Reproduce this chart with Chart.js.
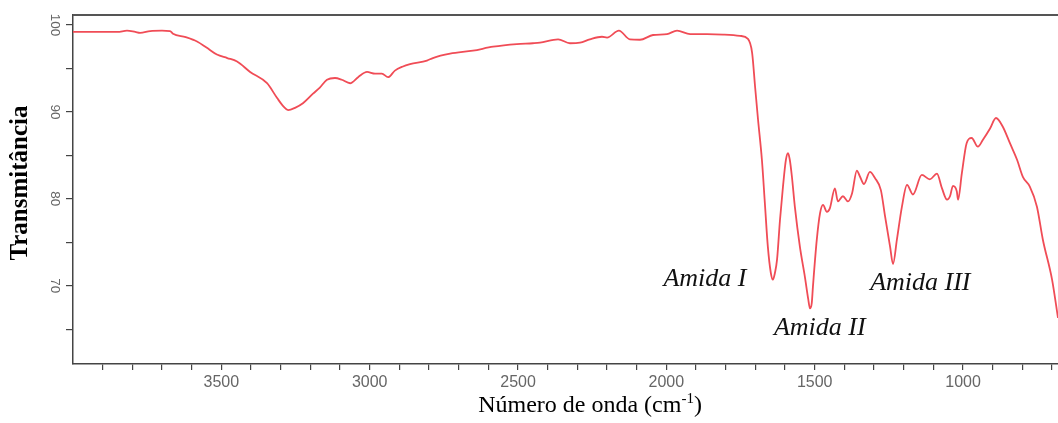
<!DOCTYPE html>
<html><head><meta charset="utf-8">
<script src="https://cdn.jsdelivr.net/npm/chart.js@4/dist/chart.umd.min.js"></script>
<style>html,body{margin:0;padding:0;background:#fff;} #wrap{width:1058px;height:423px;position:relative;}</style>
</head><body><div id="wrap"><canvas id="c"></canvas></div>
<script>
const wavenumbers = [4000,3900,3850,3818,3790,3774,3740,3700,3673,3663,3620,3582,3550,3515,3480,3447,3403,3346,3312,3290,3275,3250,3225,3191,3168,3144,3117,3094,3066,3039,3009,2982,2959,2938,2915,2890,2864,2807,2787,2729,2652,2584,2504,2450,2426,2365,2325,2291,2258,2217,2200,2160,2123,2089,2045,1998,1964,1920,1863,1809,1752,1725,1711,1701,1691,1678,1668,1658,1648,1641,1634,1627,1617,1607,1597,1590,1584,1577,1567,1550,1533,1522,1516,1510,1506,1493,1482,1472,1459,1449,1432,1422,1405,1388,1374,1358,1348,1334,1314,1297,1277,1263,1246,1236,1223,1206,1189,1169,1139,1112,1088,1071,1054,1044,1034,1021,1017,1004,988,971,950,933,909,889,866,842,818,798,775,751,731,700,680];
const transmittance = [99.2,99.2,99.2,99.35,99.2,99.1,99.3,99.35,99.3,99.0,98.6,98.1,97.4,96.6,96.2,95.8,94.6,93.3,91.6,90.6,90.2,90.5,91.0,92.1,92.8,93.7,93.9,93.7,93.3,94.0,94.6,94.4,94.4,94.0,94.75,95.2,95.5,95.9,96.2,96.7,97.05,97.5,97.8,97.9,97.97,98.35,97.9,97.97,98.35,98.65,98.55,99.35,98.35,98.3,98.85,98.95,99.35,98.95,98.95,98.9,98.75,98.4,96.8,92.9,89.1,84.5,79.5,74.5,71.5,70.7,71.5,73.0,77.6,81.4,84.5,85.25,84.5,82.6,79.1,74.5,71.0,68.5,67.4,68.0,69.9,75.3,78.35,79.3,78.5,78.9,81.2,79.7,80.3,79.7,80.65,83.25,82.6,81.7,83.1,82.4,81.0,78.0,74.5,72.5,75.3,79.1,81.6,80.5,82.75,82.25,82.9,81.2,79.9,80.3,81.5,80.85,79.9,82.95,86.4,87.0,86.0,86.8,88.1,89.3,88.3,86.4,84.5,82.5,81.4,79.1,75.3,70.7,66.3];
const xTickLabels = ['3500','3000','2500','2000','1500','1000'];
const yTickLabels = ['70','80','90','100'];
const annotationTexts = ['Amida I','Amida II','Amida III'];
const annotationWavenumbers = [1870,1483,1144];
const annotationTransmittance = [70.0,64.37,69.46];
const xTitle = 'Número de onda (cm';
const xTitleSup = '-1';
const xTitleEnd = ')';
const yTitle = 'Transmitância';

const points = wavenumbers.map((w,i)=>({x:w,y:transmittance[i]}));

const decor = {
  id:'decor',
  afterDraw(chart){
    const ctx = chart.ctx, ca = chart.chartArea;
    const xs = chart.scales.x, ys = chart.scales.y;
    ctx.save();
    // top border
    ctx.strokeStyle = '#555'; ctx.lineWidth = 2;
    ctx.beginPath(); ctx.moveTo(ca.left, ca.top); ctx.lineTo(ca.right, ca.top); ctx.stroke();
    // annotations
    ctx.fillStyle = '#111';
    ctx.font = 'italic 26px "Liberation Serif"';
    ctx.textAlign = 'center'; ctx.textBaseline = 'alphabetic';
    annotationTexts.forEach((t,i)=>{
      ctx.fillText(t, xs.getPixelForValue(annotationWavenumbers[i]), ys.getPixelForValue(annotationTransmittance[i]));
    });
    // y title
    ctx.save();
    ctx.translate(21, 183); ctx.rotate(-Math.PI/2);
    ctx.font = 'bold 25px "Liberation Serif"';
    ctx.textAlign = 'center'; ctx.textBaseline = 'middle';
    ctx.fillStyle = '#000';
    ctx.fillText(yTitle, 0, 0);
    ctx.restore();
    // x title with superscript
    const mainFont = '24px "Liberation Serif"', supFont = '15px "Liberation Serif"';
    ctx.textAlign = 'left'; ctx.textBaseline = 'alphabetic'; ctx.fillStyle = '#000';
    ctx.font = mainFont; const w1 = ctx.measureText(xTitle).width; const w3 = ctx.measureText(xTitleEnd).width;
    ctx.font = supFont; const w2 = ctx.measureText(xTitleSup).width;
    let x0 = 590 - (w1+w2+w3)/2, base = 412;
    ctx.font = mainFont; ctx.fillText(xTitle, x0, base);
    ctx.font = supFont; ctx.fillText(xTitleSup, x0+w1, base-9);
    ctx.font = mainFont; ctx.fillText(xTitleEnd, x0+w1+w2, base);
    ctx.restore();
  }
};

new Chart(document.getElementById('c'), {
  type:'line',
  data:{datasets:[{data:points, borderColor:'#f04c56', borderWidth:1.8, pointRadius:0, cubicInterpolationMode:'monotone', fill:false}]},
  options:{
    responsive:true, maintainAspectRatio:false, animation:false,
    layout:{padding:{left:0,right:0,top:15,bottom:0}},
    plugins:{legend:{display:false}, tooltip:{enabled:false}},
    scales:{
      x:{type:'linear', reverse:true, min:680, max:4000,
        afterBuildTicks: s => { s.ticks = s.ticks.filter(t => t.value % 100 === 0 && t.value < 4000 && t.value > 680); },
        afterFit: s => { s.height = 59; },
        border:{display:true, color:'#444', width:1.5},
        grid:{drawOnChartArea:false, drawTicks:true, tickLength:6, color:'#444', lineWidth:1.2},
        ticks:{stepSize:100, autoSkip:false, includeBounds:false, maxRotation:0, minRotation:0, padding:2.5, color:'#666',
          font:{family:'Liberation Sans', size:16},
          callback: v => xTickLabels.includes(String(v)) ? String(v) : ''}
      },
      y:{type:'linear', min:61, max:101.15,
        afterBuildTicks: s => { s.ticks = s.ticks.filter(t => Math.abs(t.value % 5) < 1e-9); },
        afterFit: s => { s.width = 73; },
        border:{display:true, color:'#444', width:1.5},
        grid:{drawOnChartArea:false, drawTicks:true, tickLength:7, color:'#444', lineWidth:1.2},
        ticks:{stepSize:5, autoSkip:false, includeBounds:false, minRotation:-90, maxRotation:-90, crossAlign:'center', padding:0, color:'#666',
          font:{family:'Liberation Sans', size:13.5},
          callback: v => yTickLabels.includes(String(v)) ? String(v) : ''}
      }
    }
  },
  plugins:[decor]
});
</script></body></html>
